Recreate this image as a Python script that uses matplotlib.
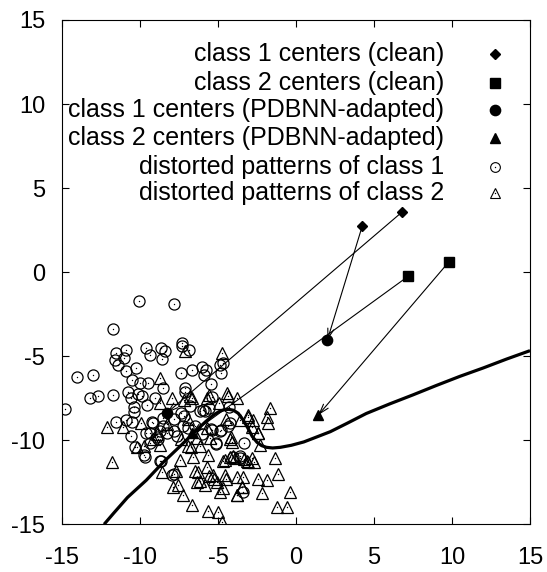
import matplotlib
matplotlib.use('Agg')
import matplotlib.pyplot as plt

plt.rcParams['font.family'] = ['Liberation Sans', 'DejaVu Sans']
plt.rcParams['axes.unicode_minus'] = False

# centers (clean and adapted)
c1_clean = [(4.24, 2.72), (6.79, 3.57)]
c2_clean = [(7.2, -0.24), (9.78, 0.59)]
c1_adapt = [(2.01, -4.04), (-8.27, -8.37)]
c2_adapt = [(-6.69, -9.59), (1.43, -8.5)]

# clean center -> adapted center
moves = [((4.24, 2.72), (2.01, -4.04)),
         ((6.79, 3.57), (-8.27, -8.37)),
         ((7.2, -0.24), (-6.69, -9.59)),
         ((9.78, 0.59), (1.43, -8.5))]

class1_pts = [
    (-10.06, -1.72), (-7.8, -1.9), (-11.75, -3.4), (-11.56, -4.79), (-10.88, -4.63),
    (-11.6, -5.23), (-11.0, -5.13), (-11.39, -5.52), (-10.92, -5.86), (-10.26, -5.68),
    (-9.64, -4.53), (-9.36, -4.95), (-8.65, -4.53), (-8.4, -4.69), (-8.61, -5.18),
    (-14.04, -6.26), (-12.99, -6.12), (-13.21, -7.5), (-12.72, -7.37), (-11.75, -7.31),
    (-14.8, -8.16), (-10.53, -6.42), (-10.0, -6.61), (-9.47, -6.58), (-8.54, -6.87),
    (-10.79, -7.11), (-10.58, -7.5), (-10.15, -7.25), (-9.85, -7.37), (-9.57, -7.9),
    (-9.04, -7.5), (-10.37, -8.0),
    (-7.33, -4.23), (-7.29, -4.39), (-6.86, -4.63), (-7.37, -5.98), (-6.69, -5.82),
    (-6.01, -5.66), (-5.79, -5.82), (-5.88, -6.12), (-4.87, -5.52), (-4.66, -5.39),
    (-4.81, -6.02), (-5.45, -6.65), (-7.12, -6.91), (-7.12, -7.11), (-5.37, -7.41),
    (-4.29, -8.04),
    (-10.38, -8.3), (-11.56, -8.9), (-10.92, -8.8), (-10.53, -8.9), (-9.25, -8.9),
    (-10.58, -9.73), (-9.36, -9.59), (-8.93, -9.79), (-9.68, -10.98), (-8.65, -11.23),
    (-7.97, -12.07), (-8.51, -8.7),
    (-5.4, -9.39), (-4.81, -9.39), (-4.34, -9.13), (-5.15, -10.24), (-3.32, -10.18),
    (-4.02, -10.98), (-3.38, -13.1), (-3.59, -11.08), (-5.94, -8.2),
    (-7.83, -8.76), (-7.38, -8.37), (-7.15, -8.56), (-7.26, -9.15), (-7.83, -9.45),
    (-7.6, -9.74), (-6.93, -9.25), (-6.48, -9.15), (-6.14, -8.27), (-5.81, -8.27),
    (-5.58, -8.07), (-6.82, -7.97), (-8.27, -9.55), (-8.72, -9.45), (-8.5, -9.15),
    (-9.17, -8.96), (-8.83, -9.94), (-9.62, -9.55), (-9.39, -10.14), (-10.29, -10.43),
    (-9.73, -10.89), (-8.72, -11.22), (-7.83, -12.01), (-3.57, -10.93), (-5.13, -10.18),
    (-4.84, -9.45), (-5.45, -9.35), (-6.03, -9.65), (-4.24, -8.96),
]

class2_pts = [
    (-8.72, -6.32), (-7.97, -7.5), (-7.12, -4.67), (-4.76, -4.79), (-4.44, -7.21),
    (-4.34, -7.37), (-3.8, -7.5), (-5.72, -7.5), (-6.69, -7.5), (-1.67, -8.1),
    (-12.1, -9.19), (-11.07, -9.19), (-9.94, -8.99), (-10.21, -10.38), (-9.72, -10.32),
    (-8.72, -10.28), (-11.77, -11.28), (-8.57, -11.87), (-7.87, -12.76),
    (-1.88, -8.6), (-1.78, -8.99), (-3.1, -8.6), (-2.74, -8.79), (-2.8, -9.19),
    (-2.42, -9.59), (-2.31, -10.28), (-3.59, -8.79), (-1.35, -11.08), (-1.13, -12.03),
    (-0.38, -13.06), (-1.24, -13.95), (-0.6, -13.95), (-2.16, -13.16), (-2.46, -12.31),
    (-1.88, -12.36), (-3.38, -12.17), (-3.8, -12.17), (-3.48, -12.76), (-3.8, -13.26),
    (-4.17, -9.79), (-4.12, -10.09), (-4.23, -10.98), (-3.91, -11.08), (-4.55, -11.17),
    (-2.84, -11.08), (-2.67, -11.28), (-3.06, -11.28), (-5.62, -10.88), (-5.51, -9.89),
    (-6.58, -10.98), (-7.44, -11.17), (-5.72, -11.57), (-6.26, -11.87), (-5.3, -12.07),
    (-4.55, -12.07), (-5.08, -12.47), (-4.66, -12.86), (-4.87, -13.1), (-6.37, -12.47),
    (-5.83, -12.66), (-7.58, -12.66), (-7.22, -13.26), (-6.69, -13.85), (-5.66, -14.21),
    (-5.02, -14.29), (-4.76, -14.88),
    (-7.71, -11.81), (-6.48, -11.81), (-6.14, -12.4), (-5.58, -12.11), (-5.25, -12.3),
    (-4.46, -12.3), (-6.14, -10.33), (-6.7, -10.43), (-5.7, -9.25), (-6.37, -9.84),
    (-7.38, -9.94), (-6.93, -10.33), (-8.27, -9.06), (-9.17, -9.94), (-8.9, -9.65),
    (-8.72, -7.78), (-5.58, -7.28), (-4.91, -7.78), (-4.46, -8.76), (-6.93, -8.76),
    (-6.82, -7.38), (-7.15, -7.58), (-3.07, -8.52), (-2.44, -9.55), (-4.24, -9.94),
    (-3.34, -11.12), (-3.12, -11.22), (-4.69, -11.22), (-4.01, -10.93), (-3.79, -13.23),
    (-3.45, -12.8),
]

# decision boundary
bound_x = [-12.3, -11.7, -10.8, -9.6, -8.5, -7.4, -6.4, -5.8, -5.3, -4.9, -4.6, -4.3,
           -4.0, -3.7, -3.4, -3.1, -2.8, -2.5, -2.2, -1.9, -1.5, -1.0, -0.3, 0.5, 1.2,
           2.2, 3.3, 4.5, 6.0, 7.5, 9.0, 10.5, 12.0, 13.5, 15.0]
bound_y = [-15.0, -14.35, -13.4, -12.38, -11.3, -10.33, -9.42, -8.9, -8.5, -8.28, -8.18,
           -8.16, -8.22, -8.4, -8.78, -9.25, -9.78, -10.12, -10.32, -10.42, -10.46,
           -10.42, -10.3, -10.1, -9.85, -9.49, -8.98, -8.41, -7.84, -7.3, -6.74, -6.2,
           -5.7, -5.17, -4.67]

labels = ['class 1 centers (clean)', 'class 2 centers (clean)',
          'class 1 centers (PDBNN-adapted)', 'class 2 centers (PDBNN-adapted)',
          'distorted patterns of class 1', 'distorted patterns of class 2']

ticks = [-15, -10, -5, 0, 5, 10, 15]

fig = plt.figure(figsize=(5.47, 5.72), dpi=100)
ax = fig.add_axes([62/547, 47.7/572, 468/547, 504.3/572])

x1, y1 = zip(*class1_pts)
x2, y2 = zip(*class2_pts)
ax.plot(x1, y1, 'o', ms=8.0, mfc='none', mec='black', mew=0.9)
ax.plot(x1, y1, 'o', ms=1.0, color='black', mew=0)
ax.plot(x2, y2, '^', ms=8.0, mfc='none', mec='black', mew=0.9)
ax.plot(x2, y2, 'o', ms=1.0, color='black', mew=0)

ax.plot(bound_x, bound_y, color='black', lw=2.3, solid_joinstyle='round',
        solid_capstyle='butt', zorder=3)

for start, end in moves:
    ax.annotate('', xy=end, xytext=start,
                arrowprops=dict(arrowstyle='->,head_length=0.7,head_width=0.22',
                                lw=0.8, color='black', shrinkA=0, shrinkB=0),
                zorder=4)

for pts, m, s in [(c1_clean, 'D', 5.0), (c2_clean, 's', 7.6),
                  (c1_adapt, 'o', 7.4), (c2_adapt, '^', 7.4)]:
    xs, ys = zip(*pts)
    ax.plot(xs, ys, m, ms=s, color='black', zorder=5)

# key, gnuplot style: right-justified text, sample to the right
styles = [dict(marker='D', ms=5.0, color='black'),
          dict(marker='s', ms=7.6, color='black'),
          dict(marker='o', ms=7.4, color='black'),
          dict(marker='^', ms=7.0, color='black'),
          dict(marker='o', ms=7.0, mfc='none', mec='black', mew=0.8),
          dict(marker='^', ms=7.0, mfc='none', mec='black', mew=0.8)]
row_y = [0.932, 0.876, 0.821, 0.767, 0.709, 0.656]
for lab, st, yy in zip(labels, styles, row_y):
    ax.text(0.816, yy, lab, transform=ax.transAxes, ha='right', va='center',
            fontsize=18)
    ax.plot([0.925], [yy], linestyle='none', transform=ax.transAxes, **st)
    if st.get('mfc') == 'none':
        ax.plot([0.925], [yy], 'o', ms=1.0, color='black', mew=0,
                transform=ax.transAxes)

ax.set_xlim(-15, 15)
ax.set_ylim(-15, 15)
ax.set_xticks(ticks)
ax.set_yticks(ticks)
ax.tick_params(direction='in', length=5, width=0.8, top=True, right=True,
               labelsize=17)
ax.tick_params(axis='x', pad=16)
ax.tick_params(axis='y', pad=12)
for sp in ax.spines.values():
    sp.set_linewidth(0.8)

fig.savefig('out.png', dpi=100)
